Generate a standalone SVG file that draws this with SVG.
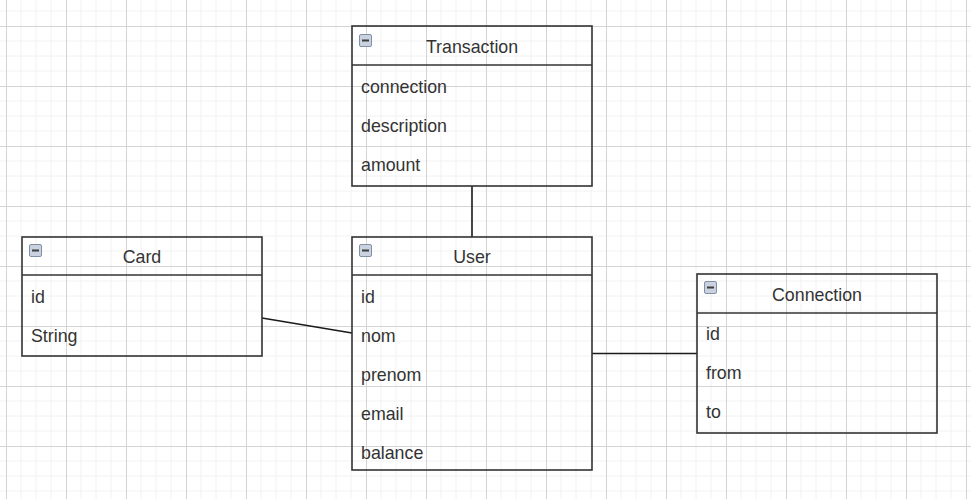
<svg xmlns="http://www.w3.org/2000/svg" width="971" height="499" viewBox="0 0 971 499">
<defs>
  <pattern id="grid" x="6" y="26" width="60" height="60" patternUnits="userSpaceOnUse">
    <path d="M15 0V60M30 0V60M45 0V60M0 15H60M0 30H60M0 45H60" stroke="#f2f2f2" stroke-width="1" fill="none"/>
    <path d="M0.5 0V60M0 0.5H60" stroke="#d4d4d4" stroke-width="1" fill="none"/>
  </pattern>
  <g id="icon">
    <rect x="0.5" y="0.5" width="12" height="12" rx="1.5" fill="#c9d2de" stroke="#8090a6" stroke-width="1"/>
    <rect x="3" y="5.5" width="7" height="2" fill="#3f3f3f"/>
  </g>
</defs>
<style>
  .box{fill:none;stroke:#333333;stroke-width:1.6}
  .hdr{fill:none;stroke:#333333;stroke-width:1.6}
  .t{font-family:"Liberation Sans",Arial,sans-serif;font-size:17.8px;fill:#333333}
  .title{text-anchor:middle}
  .edge{fill:none;stroke:#1a1a1a;stroke-width:1.6}
</style>
<rect width="971" height="499" fill="#ffffff"/>
<rect width="971" height="499" fill="url(#grid)"/>

<g id="connectors">
  <path class="edge" d="M472 186V237"/>
  <path class="edge" d="M262 318L352 333"/>
  <path class="edge" d="M592 353.5H697"/>
</g>

<g id="transaction">
  <rect class="box" x="352" y="26" width="240" height="160"/>
  <path class="hdr" d="M352 65H592"/>
  <use href="#icon" x="359" y="34"/>
  <text class="t title" x="472" y="52.5">Transaction</text>
  <text class="t" x="361" y="92.5">connection</text>
  <text class="t" x="361" y="131.5">description</text>
  <text class="t" x="361" y="170.5">amount</text>
</g>

<g id="card">
  <rect class="box" x="22" y="237" width="240" height="119"/>
  <path class="hdr" d="M22 275H262"/>
  <use href="#icon" x="29" y="244"/>
  <text class="t title" x="142" y="262.5">Card</text>
  <text class="t" x="31" y="302.5">id</text>
  <text class="t" x="31" y="341.5">String</text>
</g>

<g id="user">
  <rect class="box" x="352" y="237" width="240" height="233"/>
  <path class="hdr" d="M352 275H592"/>
  <use href="#icon" x="359" y="244"/>
  <text class="t title" x="472" y="262.5">User</text>
  <text class="t" x="361" y="302.5">id</text>
  <text class="t" x="361" y="341.5">nom</text>
  <text class="t" x="361" y="380.5">prenom</text>
  <text class="t" x="361" y="419.5">email</text>
  <text class="t" x="361" y="458.5">balance</text>
</g>

<g id="connection">
  <rect class="box" x="697" y="274" width="240" height="159"/>
  <path class="hdr" d="M697 313H937"/>
  <use href="#icon" x="704" y="281"/>
  <text class="t title" x="817" y="300.5">Connection</text>
  <text class="t" x="706" y="339.5">id</text>
  <text class="t" x="706" y="378.5">from</text>
  <text class="t" x="706" y="417.5">to</text>
</g>
</svg>
